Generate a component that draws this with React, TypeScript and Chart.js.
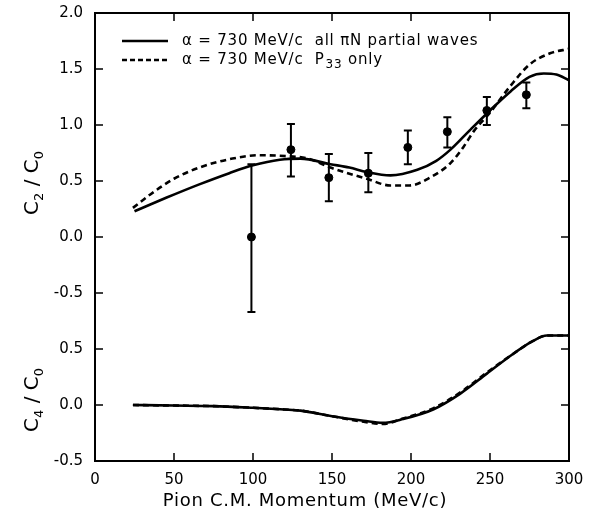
import React, { useEffect, useRef } from "react";
import { Chart, registerables } from "chart.js";

Chart.register(...registerables);

// ---- data ----
const xTicks = [0, 50, 100, 150, 200, 250, 300];
const C4_OFFSET = -1.5; // lower panel drawn 1.5 units below upper panel

const c2AllX = [25, 35, 45, 66, 85, 100, 117, 130, 149, 161, 172, 187, 204, 216, 225, 237, 250, 263, 275, 284, 292, 300];
const c2AllY = [0.23, 0.29, 0.35, 0.47, 0.57, 0.64, 0.69, 0.70, 0.65, 0.62, 0.58, 0.55, 0.60, 0.68, 0.78, 0.95, 1.13, 1.30, 1.43, 1.46, 1.45, 1.40];

const c2P33X = [24, 35, 50, 66, 87, 104, 123, 135, 149, 160, 172, 187, 199, 212, 225, 233, 240, 250, 263, 275, 288, 300];
const c2P33Y = [0.26, 0.38, 0.52, 0.62, 0.70, 0.73, 0.72, 0.70, 0.62, 0.57, 0.52, 0.46, 0.46, 0.53, 0.66, 0.80, 0.95, 1.11, 1.35, 1.54, 1.64, 1.68];

const c4AllX = [24, 50, 75, 100, 120, 130, 150, 170, 182, 195, 214, 231, 248, 265, 277, 286, 300];
const c4AllY = [0.0, -0.005, -0.01, -0.025, -0.04, -0.05, -0.10, -0.14, -0.16, -0.125, -0.04, 0.10, 0.28, 0.46, 0.57, 0.62, 0.62];
const c4P33Y = [0.0, -0.005, -0.01, -0.025, -0.04, -0.05, -0.10, -0.15, -0.17, -0.12, -0.03, 0.11, 0.29, 0.46, 0.57, 0.62, 0.62];

const expX = [99, 124, 148, 173, 198, 223, 248, 273];
const expY = [0.0, 0.78, 0.53, 0.57, 0.80, 0.94, 1.13, 1.27];
const expHi = [0.65, 1.01, 0.74, 0.75, 0.95, 1.07, 1.25, 1.38];
const expLo = [-0.67, 0.54, 0.32, 0.40, 0.65, 0.80, 1.00, 1.15];

const legendAll = "α = 730 MeV/c  all πN partial waves";
const legendP33 = ["α = 730 MeV/c  P", "33", " only"];
const xTitle = "Pion C.M. Momentum (MeV/c)";

const FONT = "'DejaVu Sans', sans-serif";

const zip = (xs: number[], ys: number[], off = 0) => xs.map((x, i) => ({ x, y: ys[i] + off }));

const decorPlugin = {
  id: "decor",
  afterDatasetsDraw(chart: any) {
    const { ctx, chartArea: a, scales } = chart;
    const xs = scales.x;
    const ys = scales.y;
    ctx.save();
    ctx.strokeStyle = "#000";
    ctx.fillStyle = "#000";
    // frame
    ctx.lineWidth = 2;
    ctx.strokeRect(a.left, a.top, a.right - a.left, a.bottom - a.top);
    // inward ticks
    const TL = 8;
    ctx.lineWidth = 1.5;
    ctx.beginPath();
    xTicks.forEach((v) => {
      const px = xs.getPixelForValue(v);
      ctx.moveTo(px, a.bottom);
      ctx.lineTo(px, a.bottom - TL);
      ctx.moveTo(px, a.top);
      ctx.lineTo(px, a.top + TL);
    });
    for (let v = -2; v <= 2.001; v += 0.5) {
      const py = ys.getPixelForValue(v);
      ctx.moveTo(a.left, py);
      ctx.lineTo(a.left + TL, py);
      ctx.moveTo(a.right, py);
      ctx.lineTo(a.right - TL, py);
    }
    ctx.stroke();
    // error bars
    ctx.lineWidth = 2;
    ctx.beginPath();
    expX.forEach((x, i) => {
      const px = xs.getPixelForValue(x);
      const ph = ys.getPixelForValue(expHi[i]);
      const pl = ys.getPixelForValue(expLo[i]);
      ctx.moveTo(px, ph);
      ctx.lineTo(px, pl);
      ctx.moveTo(px - 4, ph);
      ctx.lineTo(px + 4, ph);
      ctx.moveTo(px - 4, pl);
      ctx.lineTo(px + 4, pl);
    });
    ctx.stroke();
    // legend
    ctx.lineWidth = 2.5;
    ctx.beginPath();
    ctx.moveTo(122, 41);
    ctx.lineTo(168, 41);
    ctx.stroke();
    ctx.setLineDash([5, 3]);
    ctx.beginPath();
    ctx.moveTo(122, 60);
    ctx.lineTo(168, 60);
    ctx.stroke();
    ctx.setLineDash([]);
    ctx.textBaseline = "middle";
    ctx.textAlign = "left";
    ctx.letterSpacing = "0.8px";
    ctx.font = `15px ${FONT}`;
    ctx.fillText(legendAll, 182, 41);
    let lx = 182;
    ctx.fillText(legendP33[0], lx, 60);
    lx += ctx.measureText(legendP33[0]).width + 1;
    ctx.font = `12px ${FONT}`;
    ctx.fillText(legendP33[1], lx, 65);
    lx += ctx.measureText(legendP33[1]).width;
    ctx.font = `15px ${FONT}`;
    ctx.fillText(legendP33[2], lx, 60);
    // x title
    ctx.letterSpacing = "0.7px";
    ctx.font = `18px ${FONT}`;
    ctx.textAlign = "center";
    ctx.fillText(xTitle, 305, 501);
    ctx.letterSpacing = "0px";
    // y titles
    const yTitle = (cx: number, cy: number, sub1: string) => {
      ctx.save();
      ctx.translate(cx, cy);
      ctx.rotate(-Math.PI / 2);
      ctx.textAlign = "left";
      ctx.textBaseline = "alphabetic";
      const parts: [string, number, number][] = [
        ["C", 20, 0],
        [sub1, 13, 5],
        [" / ", 20, 0],
        ["C", 20, 0],
        ["0", 13, 5],
      ];
      let total = 0;
      parts.forEach(([t, s]) => {
        ctx.font = `${s}px ${FONT}`;
        total += ctx.measureText(t).width;
      });
      let x = -total / 2;
      parts.forEach(([t, s, dy]) => {
        ctx.font = `${s}px ${FONT}`;
        ctx.fillText(t, x, 7 + dy);
        x += ctx.measureText(t).width;
      });
      ctx.restore();
    };
    yTitle(31, 183, "2");
    yTitle(31, 400, "4");
    ctx.restore();
  },
};

export default function App() {
  const ref = useRef<HTMLCanvasElement | null>(null);
  useEffect(() => {
    if (!ref.current) return;
    const lineBase = {
      showLine: true,
      pointRadius: 0,
      borderColor: "#000",
      borderWidth: 2.6,
      cubicInterpolationMode: "monotone" as const,
      fill: false,
    };
    const chart = new Chart(ref.current, {
      type: "scatter",
      data: {
        datasets: [
          { ...lineBase, label: "c2all", data: zip(c2AllX, c2AllY) },
          { ...lineBase, label: "c2p33", data: zip(c2P33X, c2P33Y), borderDash: [6, 4] },
          { ...lineBase, label: "c4all", data: zip(c4AllX, c4AllY, C4_OFFSET) },
          { ...lineBase, label: "c4p33", data: zip(c4AllX, c4P33Y, C4_OFFSET), borderDash: [6, 4] },
          {
            label: "exp",
            data: zip(expX, expY),
            pointRadius: 4,
            pointBackgroundColor: "#000",
            pointBorderColor: "#000",
            showLine: false,
          },
        ],
      },
      options: {
        animation: false,
        responsive: false,
        maintainAspectRatio: false,
        layout: { padding: { top: 13, right: 27, left: 0, bottom: 0 } },
        plugins: { legend: { display: false }, tooltip: { enabled: false } },
        scales: {
          x: {
            type: "linear",
            min: 0,
            max: 300,
            grid: { display: false, drawTicks: false },
            border: { display: false },
            ticks: {
              stepSize: 50,
              color: "#000",
              padding: 10,
              font: { family: FONT, size: 15 },
              maxRotation: 0,
            },
            afterFit: (s: any) => {
              s.height = 55;
              s.paddingLeft = 0;
              s.paddingRight = 0;
            },
          },
          y: {
            type: "linear",
            min: -2,
            max: 2,
            grid: { display: false, drawTicks: false },
            border: { display: false },
            ticks: {
              stepSize: 0.5,
              color: "#000",
              padding: 12,
              font: { family: FONT, size: 15 },
              callback: (v: any) => {
                const n = Number(v);
                const shown = n >= -0.5 - 1e-9 ? n : n - C4_OFFSET;
                return (Math.abs(shown) < 1e-9 ? 0 : shown).toFixed(1);
              },
            },
            afterFit: (s: any) => {
              s.width = 95;
              s.paddingTop = 0;
              s.paddingBottom = 0;
            },
          },
        },
      },
      plugins: [decorPlugin],
    } as any);
    return () => chart.destroy();
  }, []);
  return (
    <div style={{ position: "fixed", left: 0, top: 0, width: 596, height: 516, background: "#fff" }}>
      <canvas ref={ref} width={596} height={516} style={{ width: 596, height: 516 }} />
    </div>
  );
}
